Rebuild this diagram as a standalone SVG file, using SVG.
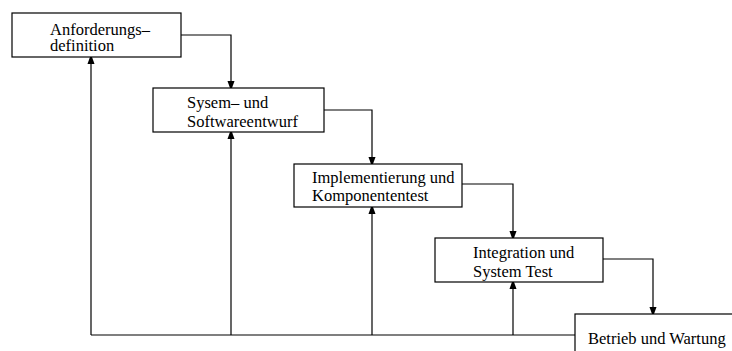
<svg xmlns="http://www.w3.org/2000/svg" width="732" height="351" viewBox="0 0 732 351">
<style>
.box{fill:#fff;stroke:#000;stroke-width:1.2}
.t{font-family:"Liberation Serif","Times New Roman",serif;font-size:16.5px;fill:#000}
.c{fill:none;stroke:#000;stroke-width:1.2}
</style>
<defs>
<marker id="ah" markerWidth="10" markerHeight="14" refX="10" refY="5" orient="auto" markerUnits="userSpaceOnUse" viewBox="0 0 14 10">
<path d="M0,0 L14,5 L0,10 Z" fill="#000"/>
</marker>
</defs>
<rect width="732" height="351" fill="#fff"/>
<g id="connectors">
<path class="c" d="M181,35 H231 V88" marker-end="url(#ah)"/>
<path class="c" d="M324,110 H372 V164" marker-end="url(#ah)"/>
<path class="c" d="M462,184 H513 V238" marker-end="url(#ah)"/>
<path class="c" d="M603,259 H653 V314" marker-end="url(#ah)"/>
<path class="c" d="M575,335 H91"/>
<path class="c" d="M91,335 V57" marker-end="url(#ah)"/>
<path class="c" d="M231,335 V132" marker-end="url(#ah)"/>
<path class="c" d="M372,335 V207" marker-end="url(#ah)"/>
<path class="c" d="M513,335 V282" marker-end="url(#ah)"/>
</g>
<g id="n1">
<rect class="box" x="12" y="13" width="169" height="44"/>
<text class="t" x="50" y="35">Anforderungs–</text>
<text class="t" x="50" y="51">definition</text>
</g>
<g id="n2">
<rect class="box" x="153" y="88" width="171" height="44"/>
<text class="t" x="187" y="108">Sysem– und</text>
<text class="t" x="187" y="127">Softwareentwurf</text>
</g>
<g id="n3">
<rect class="box" x="294" y="164" width="168" height="43"/>
<text class="t" x="312" y="183">Implementierung und</text>
<text class="t" x="312" y="201">Komponententest</text>
</g>
<g id="n4">
<rect class="box" x="435" y="238" width="168" height="44"/>
<text class="t" x="473" y="258">Integration und</text>
<text class="t" x="473" y="277">System Test</text>
</g>
<g id="n5">
<rect class="box" x="575" y="314" width="170" height="50"/>
<text class="t" x="588" y="344">Betrieb und Wartung</text>
</g>
</svg>
